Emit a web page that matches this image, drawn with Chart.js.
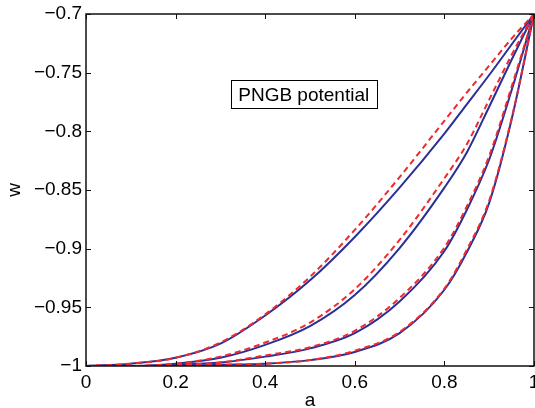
<!DOCTYPE html>
<html><head><meta charset="utf-8">
<script src="https://cdn.jsdelivr.net/npm/chart.js@4"></script>
<style>html,body{margin:0;padding:0;background:#fff}#wrap{width:535px;height:408px;position:relative}</style>
</head><body><div id="wrap"><canvas id="c" width="535" height="408"></canvas></div>
<script>
// ---- data ----
const aValues = [0, 0.1, 0.2, 0.3, 0.4, 0.5, 0.6, 0.7, 0.8, 0.85, 0.9, 0.95, 1];
const blue1 = [-1, -0.998, -0.993, -0.981, -0.957, -0.927, -0.890, -0.848, -0.802, -0.777, -0.752, -0.726, -0.7];
const red1  = [-1, -0.998, -0.993, -0.980, -0.956, -0.924, -0.884, -0.839, -0.791, -0.767, -0.744, -0.721, -0.7];
const blue2 = [-1, -1.000, -0.998, -0.993, -0.982, -0.966, -0.9395, -0.8995, -0.848, -0.818, -0.779, -0.739, -0.7];
const red2  = [-1, -1.000, -0.998, -0.992, -0.980, -0.963, -0.9345, -0.8925, -0.840, -0.811, -0.773, -0.735, -0.7];
const blue3 = [-1, -1.000, -0.999, -0.997, -0.992, -0.985, -0.972, -0.945, -0.902, -0.867, -0.824, -0.765, -0.7];
const red3  = [-1, -1.000, -0.999, -0.997, -0.991, -0.984, -0.970, -0.942, -0.899, -0.864, -0.821, -0.762, -0.7];
const blue4 = [-1, -1.000, -1.000, -0.999, -0.998, -0.995, -0.988, -0.972, -0.935, -0.903, -0.861, -0.790, -0.7];
const red4  = [-1, -1.000, -1.000, -0.999, -0.998, -0.995, -0.987, -0.971, -0.934, -0.901, -0.859, -0.789, -0.7];
const xTicks = [0, 0.2, 0.4, 0.6, 0.8, 1];
const yTicks = [-1, -0.95, -0.9, -0.85, -0.8, -0.75, -0.7];
const xTitle = 'a';
const yTitle = 'w';
const boxLabel = 'PNGB potential';
const boxCorners = {a0: 0.323, a1: 0.649, w0: -0.756, w1: -0.780};

// ---- styling ----
const BLUE = '#2a2f97';
const RED = '#ee2a2f';
const FONT = '"Liberation Sans", Arial, Helvetica, sans-serif';

function pts(ys) { return aValues.map((a, i) => ({x: a, y: ys[i]})); }
function fmt(v) { const s = String(Math.round(v * 100) / 100); return s.replace('-', '\u2212'); }

const redSets = [red1, red2, red3, red4].map(d => ({
  data: pts(d), borderColor: RED, borderWidth: 2, borderDash: [6, 4],
  pointRadius: 0, fill: false, cubicInterpolationMode: 'monotone', order: 0
}));
const blueSets = [blue1, blue2, blue3, blue4].map(d => ({
  data: pts(d), borderColor: BLUE, borderWidth: 2,
  pointRadius: 0, fill: false, cubicInterpolationMode: 'monotone', order: 1
}));

const framePlugin = {
  id: 'frame',
  afterDatasetsDraw(chart) {
    const {ctx, chartArea: ca, scales: {x, y}} = chart;
    ctx.save();
    ctx.strokeStyle = '#111';
    ctx.lineWidth = 1.5;
    ctx.strokeRect(ca.left, ca.top, ca.right - ca.left, ca.bottom - ca.top);
    ctx.lineWidth = 1;
    ctx.beginPath();
    const tl = 5;
    xTicks.forEach(v => {
      const px = Math.round(x.getPixelForValue(v)) + 0.5;
      ctx.moveTo(px, ca.bottom); ctx.lineTo(px, ca.bottom - tl);
      ctx.moveTo(px, ca.top); ctx.lineTo(px, ca.top + tl);
    });
    yTicks.forEach(v => {
      const py = Math.round(y.getPixelForValue(v)) + 0.5;
      ctx.moveTo(ca.left, py); ctx.lineTo(ca.left + tl, py);
      ctx.moveTo(ca.right, py); ctx.lineTo(ca.right - tl, py);
    });
    ctx.stroke();
    // text box
    const bx0 = x.getPixelForValue(boxCorners.a0), bx1 = x.getPixelForValue(boxCorners.a1);
    const by0 = y.getPixelForValue(boxCorners.w0), by1 = y.getPixelForValue(boxCorners.w1);
    ctx.fillStyle = '#fff';
    ctx.fillRect(bx0, by0, bx1 - bx0, by1 - by0);
    ctx.strokeStyle = '#000';
    ctx.lineWidth = 1;
    ctx.strokeRect(Math.round(bx0) + 0.5, Math.round(by0) + 0.5, Math.round(bx1 - bx0), Math.round(by1 - by0));
    ctx.fillStyle = '#000';
    ctx.font = '19px ' + FONT;
    ctx.textAlign = 'center';
    ctx.textBaseline = 'alphabetic';
    ctx.fillText(boxLabel, (bx0 + bx1) / 2, by1 - 7);
    // axis titles
    ctx.fillText(xTitle, (ca.left + ca.right) / 2, 406);
    ctx.save();
    ctx.translate(20, (ca.top + ca.bottom) / 2);
    ctx.rotate(-Math.PI / 2);
    ctx.fillText(yTitle, 0, 0);
    ctx.restore();
    ctx.restore();
  }
};

new Chart(document.getElementById('c'), {
  type: 'line',
  data: {datasets: [...redSets, ...blueSets]},
  options: {
    responsive: false, animation: false, devicePixelRatio: 1,
    layout: {padding: {left: 0, right: 1, top: 14, bottom: 0}},
    plugins: {legend: {display: false}, tooltip: {enabled: false}},
    scales: {
      x: {
        type: 'linear', min: 0, max: 1,
        afterBuildTicks: s => { s.ticks = xTicks.map(v => ({value: v})); },
        afterFit: s => { s.height = 42; s.paddingLeft = 0; s.paddingRight = 0; },
        grid: {display: false, drawTicks: false}, border: {display: false},
        ticks: {color: '#000', font: {size: 19, family: FONT}, padding: 5, autoSkip: false, maxRotation: 0, callback: v => fmt(v)}
      },
      y: {
        type: 'linear', min: -1, max: -0.7,
        afterBuildTicks: s => { s.ticks = yTicks.map(v => ({value: v})); },
        afterFit: s => { s.width = 86; s.paddingTop = 0; s.paddingBottom = 0; },
        grid: {display: false, drawTicks: false}, border: {display: false},
        ticks: {color: '#000', font: {size: 19, family: FONT}, padding: 4, autoSkip: false, callback: v => fmt(v)}
      }
    }
  },
  plugins: [framePlugin]
});
</script></body></html>
